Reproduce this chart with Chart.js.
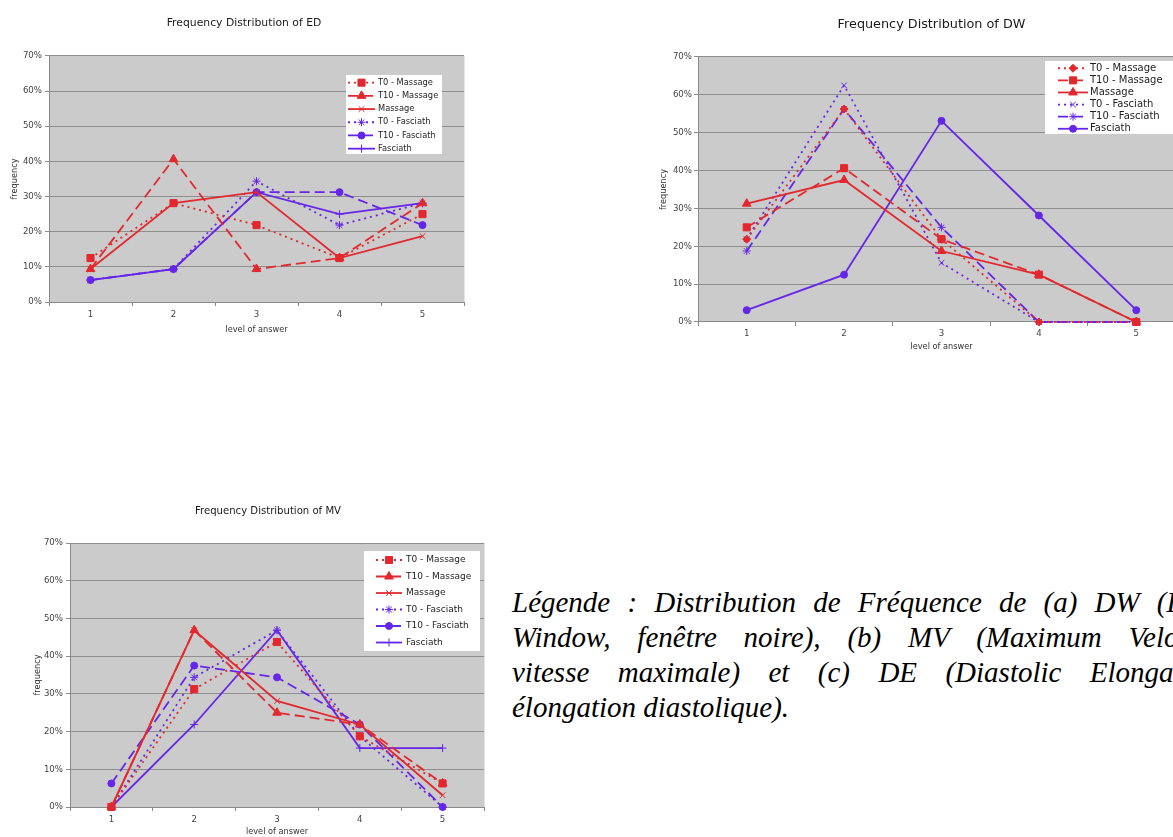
<!DOCTYPE html>
<html>
<head>
<meta charset="utf-8">
<title>Frequency Distribution</title>
<script src="https://cdn.jsdelivr.net/npm/chart.js@4.4.1/dist/chart.umd.min.js"></script>
<style>
  html, body { margin: 0; padding: 0; background: #fff; }
  body { position: relative; width: 1173px; height: 837px; overflow: hidden; }
  canvas { position: absolute; }
  #ed { left: 0; top: 0; }
  #dw { left: 620px; top: 0; }
  #mv { left: 0; top: 495px; }
  #caption {
    position: absolute; left: 512px; top: 585px; width: 714px;
    font: italic 29px/35px "Liberation Serif", "Times New Roman", serif; color: #000;
  }
  #caption div { text-align: justify; text-align-last: justify; white-space: nowrap; }
  #caption div.last { text-align-last: left; }
</style>
</head>
<body>
<canvas id="ed" width="480" height="345"></canvas>
<canvas id="dw" width="600" height="360"></canvas>
<canvas id="mv" width="500" height="342"></canvas>
<div id="caption">
  <div>Légende : Distribution de Fréquence de (a) DW (Dark</div>
  <div>Window, fenêtre noire), (b) MV (Maximum Velocity,</div>
  <div>vitesse maximale) et (c) DE (Diastolic Elongation,</div>
  <div class="last">élongation diastolique).</div>
</div>
<script>
const levels = ['1', '2', '3', '4', '5'];
const yTickLabels = ['0%', '10%', '20%', '30%', '40%', '50%', '60%', '70%'];
const seriesNames = ['T0 - Massage', 'T10 - Massage', 'Massage', 'T0 - Fasciath', 'T10 - Fasciath', 'Fasciath'];

// ED (%)
const edT0Massage   = [12.5, 28.125, 21.875, 12.5, 25];
const edT10Massage  = [9.375, 40.625, 9.375, 12.5, 28.125];
const edMassage     = [9.375, 28.125, 31.25, 12.5, 18.75];
const edT0Fasciath  = [6.25, 9.375, 34.375, 21.875, 28.125];
const edT10Fasciath = [6.25, 9.375, 31.25, 31.25, 21.875];
const edFasciath    = [6.25, 9.375, 31.25, 25, 28.125];

// DW (%)
const dwT0Massage   = [21.875, 56.25, 21.875, 0, 0];
const dwT10Massage  = [25, 40.625, 21.875, 12.5, 0];
const dwMassage     = [31.25, 37.5, 18.75, 12.5, 0];
const dwT0Fasciath  = [21.875, 62.5, 15.625, 0, 0];
const dwT10Fasciath = [18.75, 56.25, 25, 0, 0];
const dwFasciath    = [3.125, 12.5, 53.125, 28.125, 3.125];

// MV (%)
const mvT0Massage   = [0, 31.25, 43.75, 18.75, 6.25];
const mvT10Massage  = [0, 46.875, 25, 21.875, 6.25];
const mvMassage     = [0, 46.875, 28.125, 21.875, 3.125];
const mvT0Fasciath  = [0, 34.375, 46.875, 18.75, 0];
const mvT10Fasciath = [6.25, 37.5, 34.375, 21.875, 0];
const mvFasciath    = [0, 21.875, 46.875, 15.625, 15.625];

const RED = '#e2282e';
const PURPLE = '#6526ea';
const DOTS = [2, 4];
const DASH = [10, 5];

const seriesColors = [RED, RED, RED, PURPLE, PURPLE, PURPLE];
const seriesDash = [DOTS, DASH, [], DOTS, DASH, []];
const markerSize = { rect: 5, rectRot: 4, triangle: 5, crossRot: 4, star: 4, circle: 3.5, cross: 4 };

Chart.defaults.font.family = '"DejaVu Sans", Verdana, sans-serif';

// grey plot area
const plotBackground = {
  id: 'plotBackground',
  beforeDraw(chart) {
    const { ctx, chartArea: a } = chart;
    ctx.save();
    ctx.fillStyle = '#cbcbcb';
    ctx.fillRect(a.left, a.top, a.right - a.left, a.bottom - a.top);
    ctx.strokeStyle = '#e4e4e4';
    ctx.lineWidth = 1;
    ctx.beginPath();
    ctx.moveTo(a.right + 0.5, a.top);
    ctx.lineTo(a.right + 0.5, a.bottom);
    ctx.stroke();
    ctx.restore();
  }
};

// white legend box inside the plot: line sample + marker + label
const boxLegend = {
  id: 'boxLegend',
  afterDraw(chart, args, o) {
    const { ctx, chartArea: a } = chart;
    const x = a.right - o.right;
    const y = a.top + o.top;
    ctx.save();
    ctx.fillStyle = '#fff';
    ctx.fillRect(x, y, o.width, o.height);
    ctx.font = o.size + 'px "DejaVu Sans", Verdana, sans-serif';
    ctx.textBaseline = 'middle';
    chart.data.datasets.forEach((ds, i) => {
      const cy = y + o.first + i * o.row;
      const x0 = x + o.pad;
      const x1 = x0 + o.sample;
      ctx.strokeStyle = ds.borderColor;
      ctx.lineWidth = ds.borderWidth;
      ctx.setLineDash(ds.borderDash);
      ctx.beginPath();
      ctx.moveTo(x0, cy);
      ctx.lineTo(x1, cy);
      ctx.stroke();
      ctx.setLineDash([]);
      ctx.fillStyle = ds.backgroundColor;
      ctx.lineWidth = 1;
      Chart.helpers.drawPoint(ctx, { pointStyle: ds.pointStyle, radius: ds.pointRadius, rotation: 0, borderWidth: 1 }, (x0 + x1) / 2, cy);
      ctx.fillStyle = '#1e1e1e';
      ctx.fillText(ds.label, x1 + o.gap, cy);
    });
    ctx.restore();
  }
};

// nudge the chart title sideways
const titleShift = {
  id: 'titleShift',
  afterLayout(chart, args, o) {
    if (chart.titleBlock) {
      chart.titleBlock.left += o.dx;
      chart.titleBlock.right += o.dx;
    }
  }
};

function buildSets(values, markers) {
  return values.map((v, i) => ({
    label: seriesNames[i],
    data: v,
    borderColor: seriesColors[i],
    backgroundColor: seriesColors[i],
    borderWidth: 1.8,
    borderDash: seriesDash[i],
    pointStyle: markers[i],
    pointRadius: markerSize[markers[i]],
    pointHoverRadius: markerSize[markers[i]],
    pointBorderWidth: 1,
    tension: 0,
    clip: 8
  }));
}

function makeChart(id, titleText, values, markers, g) {
  return new Chart(document.getElementById(id), {
    type: 'line',
    data: { labels: levels, datasets: buildSets(values, markers) },
    plugins: [plotBackground, boxLegend, titleShift],
    options: {
      responsive: false,
      animation: false,
      events: [],
      layout: { padding: { left: 0, right: g.padRight, top: 0, bottom: 0 } },
      plugins: {
        legend: { display: false },
        tooltip: { enabled: false },
        title: {
          display: true, text: titleText, color: '#1a1a1a',
          font: { size: g.titleSize, weight: 'normal' },
          padding: { top: g.titleTop, bottom: g.titleBottom }
        },
        titleShift: { dx: g.titleDx },
        boxLegend: g.legend
      },
      scales: {
        x: {
          offset: true,
          grid: { offset: true, drawOnChartArea: false, drawTicks: true, tickLength: 4, color: '#8a8a8a' },
          border: { color: '#8a8a8a' },
          ticks: { color: '#444', font: { size: 8.6 }, padding: g.xTickPad, maxRotation: 0, autoSkip: false },
          title: { display: true, text: 'level of answer', color: '#333', font: { size: 8.2 }, padding: { top: 0, bottom: g.xTitlePad } },
          afterFit: s => { s.height = g.xH; }
        },
        y: {
          min: 0, max: 70,
          grid: { color: '#8e8e8e', tickLength: 4, drawTicks: true },
          border: { color: '#8a8a8a' },
          ticks: { stepSize: 10, color: '#444', font: { size: 8.6 }, padding: g.yTickPad, callback: v => yTickLabels[Math.round(v / 10)] },
          title: { display: true, text: 'frequency', color: '#333', font: { size: 8.2 }, padding: { top: g.yTitlePad, bottom: 0 } },
          afterFit: s => { s.width = g.yW; }
        }
      }
    }
  });
}

makeChart('ed', 'Frequency Distribution of ED',
  [edT0Massage, edT10Massage, edMassage, edT0Fasciath, edT10Fasciath, edFasciath],
  ['rect', 'triangle', 'crossRot', 'star', 'circle', 'cross'],
  { padRight: 16, titleSize: 10.8, titleTop: 16.5, titleBottom: 26.5, titleDx: 12,
    xH: 43, xTickPad: 4, xTitlePad: 10, yW: 49, yTickPad: 3, yTitlePad: 10,
    legend: { right: 118, top: 19, width: 96, height: 79, first: 7.7, row: 13.2, pad: 2, sample: 27, gap: 3, size: 8.3 } });

makeChart('dw', 'Frequency Distribution of DW',
  [dwT0Massage, dwT10Massage, dwMassage, dwT0Fasciath, dwT10Fasciath, dwFasciath],
  ['rectRot', 'rect', 'triangle', 'crossRot', 'star', 'circle'],
  { padRight: 35, titleSize: 12.8, titleTop: 17.3, titleBottom: 24.3, titleDx: 29,
    xH: 38, xTickPad: 3, xTitlePad: 8, yW: 78, yTickPad: 2, yTitlePad: 39,
    legend: { right: 140, top: 4, width: 138, height: 73, first: 7.3, row: 12.1, pad: 13, sample: 30, gap: 2, size: 10 } });

makeChart('mv', 'Frequency Distribution of MV',
  [mvT0Massage, mvT10Massage, mvMassage, mvT0Fasciath, mvT10Fasciath, mvFasciath],
  ['rect', 'triangle', 'crossRot', 'star', 'circle', 'cross'],
  { padRight: 16, titleSize: 10.1, titleTop: 10, titleBottom: 25.9, titleDx: 26,
    xH: 30, xTickPad: 4, xTitlePad: 0, yW: 70, yTickPad: 3, yTitlePad: 33,
    legend: { right: 120, top: 8, width: 116, height: 100, first: 9, row: 16.5, pad: 12, sample: 26, gap: 4, size: 9 } });
</script>
</body>
</html>
